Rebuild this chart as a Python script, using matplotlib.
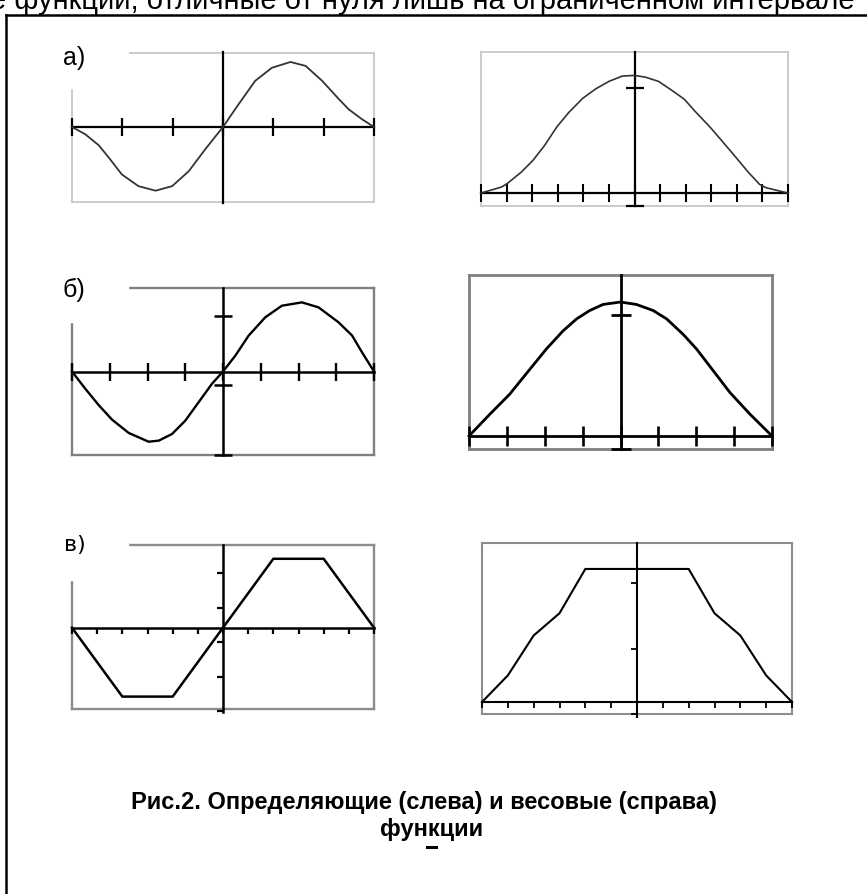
import numpy as np
import matplotlib.pyplot as plt
from matplotlib.patches import Rectangle

# определяющие (слева) и весовые (справа) функции, три варианта
# а) гладкая функция
a_left_x = [-3, -2.74, -2.47, -2.27, -2.01, -1.68, -1.34, -1.01, -0.68, -0.35, 0,
            0.31, 0.64, 0.97, 1.34, 1.64, 1.97, 2.30, 2.50, 2.76, 3]
a_left_y = [0, -0.11, -0.28, -0.47, -0.73, -0.91, -0.98, -0.91, -0.68, -0.34, 0,
            0.35, 0.71, 0.91, 1.0, 0.94, 0.71, 0.43, 0.27, 0.12, 0]
a_right_x = [-6, -5.2, -4.98, -4.42, -3.97, -3.52, -3.03, -2.55, -2.02, -1.51, -1.0, -0.48, 0,
             0.43, 0.94, 1.46, 1.95, 2.37, 2.95, 3.40, 3.96, 4.44, 4.89, 5.15, 6]
a_right_y = [0, 0.057, 0.089, 0.20, 0.31, 0.45, 0.63, 0.77, 0.90, 0.99, 1.06, 1.11, 1.117,
             1.10, 1.06, 0.975, 0.89, 0.775, 0.627, 0.50, 0.34, 0.20, 0.082, 0.05, 0]

# б) синусоида
b_left_x = [-4, -3.65, -3.29, -2.94, -2.50, -1.97, -1.70, -1.35, -1.0, -0.64, -0.29, 0,
            0.33, 0.68, 1.12, 1.56, 2.09, 2.53, 3.06, 3.42, 3.68, 4]
b_left_y = [0, -0.31, -0.61, -0.87, -1.11, -1.27, -1.25, -1.13, -0.89, -0.55, -0.22, 0,
            0.29, 0.65, 0.98, 1.19, 1.25, 1.16, 0.89, 0.65, 0.35, 0]
b_right_x = [-4, -3.45, -2.93, -2.40, -1.96, -1.52, -1.16, -0.81, -0.46, 0,
             0.42, 0.86, 1.22, 1.66, 2.01, 2.45, 2.89, 3.42, 4]
b_right_y = [0, 0.18, 0.345, 0.55, 0.72, 0.87, 0.97, 1.04, 1.09, 1.11,
             1.09, 1.04, 0.97, 0.84, 0.72, 0.54, 0.36, 0.18, 0]

# в) трапеция
c_left_x = [-6, -4, -2, 0, 2, 4, 6]
c_left_y = [0, -1, -1, 0, 1, 1, 0]
c_right_x = [-6, -5, -4, -3, -2, -1, 0, 1, 2, 3, 4, 5, 6]
c_right_y = [0, 0.2, 0.5, 0.667, 1, 1, 1, 1, 1, 0.667, 0.5, 0.2, 0]

W, H = 867, 895
fig = plt.figure(figsize=(W / 100, H / 100), dpi=100)


def px_axes(x0, y0, x1, y1):
    return fig.add_axes([x0 / W, 1 - y1 / H, (x1 - x0) / W, (y1 - y0) / H])


def frame(ax, xlim, ylim, color, lw):
    ax.set_xlim(*xlim)
    ax.set_ylim(*ylim)
    ax.set_xticks([])
    ax.set_yticks([])
    for s in ax.spines.values():
        s.set_color(color)
        s.set_linewidth(lw)
        s.set_zorder(1)


def cover(x0, y0, x1, y1):
    fig.add_artist(Rectangle((x0 / W, 1 - y1 / H), (x1 - x0) / W, (y1 - y0) / H,
                             transform=fig.transFigure, color='white', zorder=5))


# ---- а) ----
ax = px_axes(72, 54, 374, 203)
frame(ax, (-3, 3), (-1.154, 1.138), '#c4c4c4', 1.2)
ax.plot([-3, 3], [0, 0], color='black', lw=1.6, zorder=3, clip_on=False)
ax.plot([0, 0], [-1.17, 1.154], color='black', lw=1.6, zorder=3, clip_on=False)
ax.plot(np.arange(-3, 4), np.zeros(7), ls='none', marker='|', ms=13, mew=1.6,
        color='black', clip_on=False, zorder=3)
ax.plot(a_left_x, a_left_y, color='#333333', lw=1.3, zorder=4, clip_on=False)
cover(66, 40, 128, 89)
fig.text(63 / W, 1 - 58 / H, 'а)', fontsize=18, family='Liberation Sans',
         va='center', ha='left', zorder=6)

ax = px_axes(481, 53, 788, 207)
frame(ax, (-6, 6), (-0.123, 1.339), '#c4c4c4', 1.2)
ax.plot([-6, 6], [0, 0], color='black', lw=1.6, zorder=3, clip_on=False)
ax.plot([0, 0], [-0.123, 1.339], color='black', lw=1.6, zorder=3, clip_on=False)
ax.plot(np.arange(-6, 7), np.zeros(13), ls='none', marker='|', ms=12.5, mew=1.5,
        color='black', clip_on=False, zorder=3)
ax.plot([0, 0], [1.0, -0.123], ls='none', marker='_', ms=12.5, mew=1.6,
        color='black', clip_on=False, zorder=3)
ax.plot(a_right_x, a_right_y, color='#333333', lw=1.2, zorder=4, clip_on=False)

# ---- б) ----
ax = px_axes(72, 289, 374, 456)
frame(ax, (-4, 4), (-1.51, 1.51), '#808080', 1.7)
ax.plot([-4, 4], [0, 0], color='black', lw=1.8, zorder=3, clip_on=False)
ax.plot([0, 0], [-1.51, 1.51], color='black', lw=1.8, zorder=3, clip_on=False)
ax.plot(np.arange(-4, 5), np.zeros(9), ls='none', marker='|', ms=12.5, mew=1.7,
        color='black', clip_on=False, zorder=3)
ax.plot([0, 0, 0], [1.0, -0.25, -1.51], ls='none', marker='_', ms=12.5, mew=1.8,
        color='black', clip_on=False, zorder=3)
ax.plot(b_left_x, b_left_y, color='black', lw=1.7, zorder=4, clip_on=False)
cover(66, 276, 128, 323)
fig.text(63 / W, 1 - 290 / H, 'б)', fontsize=18, family='Liberation Sans',
         va='center', ha='left', zorder=6)

ax = px_axes(469, 276, 772, 450)
frame(ax, (-4, 4), (-0.108, 1.334), '#808080', 2.0)
ax.plot([-4, 4], [0, 0], color='black', lw=2.0, zorder=3, clip_on=False)
ax.plot([0, 0], [-0.108, 1.334], color='black', lw=2.0, zorder=3, clip_on=False)
ax.plot(np.arange(-4, 5), np.zeros(9), ls='none', marker='|', ms=15, mew=1.9,
        color='black', clip_on=False, zorder=3)
ax.plot([0, 0], [1.0, -0.108], ls='none', marker='_', ms=15, mew=2.0,
        color='black', clip_on=False, zorder=3)
ax.plot(b_right_x, b_right_y, color='black', lw=2.0, zorder=4, clip_on=False)

# ---- в) ----
ax = px_axes(72, 546, 374, 710)
frame(ax, (-6, 6), (-1.18, 1.2), '#8c8c8c', 1.7)
ax.plot([-6, 6], [0, 0], color='black', lw=1.8, zorder=3, clip_on=False)
ax.plot([0, 0], [-1.23, 1.2], color='black', lw=1.8, zorder=3, clip_on=False)
ax.plot(np.arange(-6, 7), np.zeros(13), ls='none', marker=3, ms=4, mew=1.6,
        color='black', clip_on=False, zorder=3)
ax.plot(np.zeros(5), [0.79, 0.29, -0.21, -0.71, -1.21], ls='none', marker=0, ms=4,
        mew=1.6, color='black', clip_on=False, zorder=3)
ax.plot(c_left_x, c_left_y, color='black', lw=1.8, zorder=4, clip_on=False)
cover(66, 532, 128, 581)
fig.text(64 / W, 1 - 545 / H, 'в)', fontsize=16, family='DejaVu Sans',
         va='center', ha='left', zorder=6)

ax = px_axes(482, 544, 792, 715)
frame(ax, (-6, 6), (-0.09, 1.195), '#8c8c8c', 1.5)
ax.plot([-6, 6], [0, 0], color='black', lw=1.5, zorder=3, clip_on=False)
ax.plot([0, 0], [-0.11, 1.195], color='black', lw=1.5, zorder=3, clip_on=False)
ax.plot(np.arange(-6, 7), np.zeros(13), ls='none', marker=3, ms=4, mew=1.3,
        color='black', clip_on=False, zorder=3)
ax.plot(np.zeros(3), [0.895, 0.40, -0.09], ls='none', marker=0, ms=4, mew=1.3,
        color='black', clip_on=False, zorder=3)
ax.plot(c_right_x, c_right_y, color='black', lw=1.5, zorder=4, clip_on=False)

# рамка страницы и обрезанная строка текста сверху
fig.add_artist(plt.Line2D([6 / W, 1], [1 - 16 / H, 1 - 16 / H], color='black',
                          lw=1.8, transform=fig.transFigure))
fig.add_artist(plt.Line2D([6 / W, 6 / W], [0, 1 - 16 / H], color='black',
                          lw=1.8, transform=fig.transFigure))
fig.text(-10 / W, 1 - 9 / H, 'е функции, отличные от нуля лишь на ограниченном интервале',
         fontsize=21, family='Liberation Sans', va='baseline', ha='left')

# подпись к рисунку
fig.text(424 / W, 1 - 802 / H, 'Рис.2. Определяющие (слева) и весовые (справа)',
         fontsize=17, family='Liberation Sans', weight='bold',
         ha='center', va='center')
fig.text(432 / W, 1 - 830 / H, 'функции', fontsize=17, family='Liberation Sans',
         weight='bold', ha='center', va='center')
fig.add_artist(plt.Line2D([427 / W, 436 / W], [1 - 848 / H, 1 - 848 / H],
                          color='black', lw=2.2, transform=fig.transFigure))

fig.savefig('out.png', dpi=100)
